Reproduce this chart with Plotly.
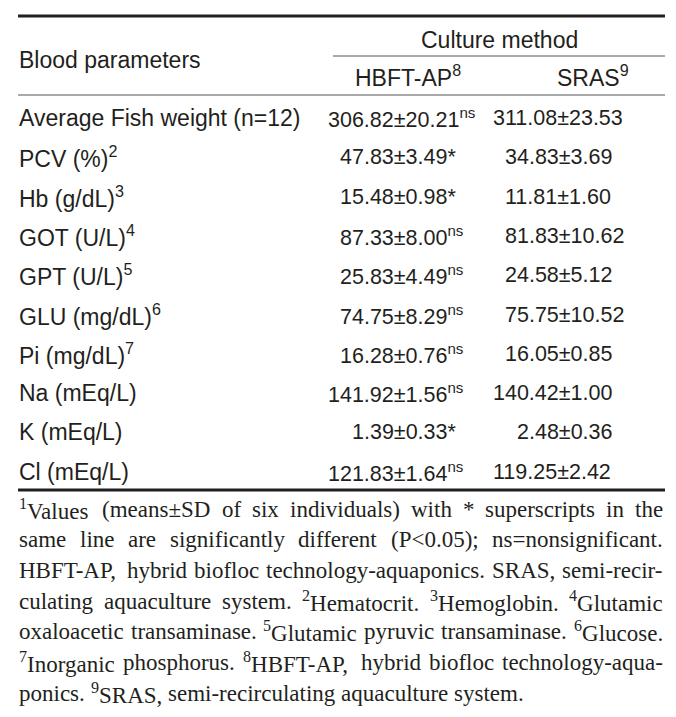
import re
import plotly.graph_objects as go

# ---------------- data ----------------
parameters = ["Average Fish weight (n=12)", "PCV (%)", "Hb (g/dL)", "GOT (U/L)", "GPT (U/L)",
              "GLU (mg/dL)", "Pi (mg/dL)", "Na (mEq/L)", "K (mEq/L)", "Cl (mEq/L)"]
param_notes = ["", "2", "3", "4", "5", "6", "7", "", "", ""]
hbft_mean = [306.82, 47.83, 15.48, 87.33, 25.83, 74.75, 16.28, 141.92, 1.39, 121.83]
hbft_sd = [20.21, 3.49, 0.98, 8.00, 4.49, 8.29, 0.76, 1.56, 0.33, 1.64]
hbft_sig = ["ns", "*", "*", "ns", "ns", "ns", "ns", "ns", "*", "ns"]
sras_mean = [311.08, 34.83, 11.81, 81.83, 24.58, 75.75, 16.05, 140.42, 2.48, 119.25]
sras_sd = [23.53, 3.69, 1.60, 10.62, 5.12, 10.52, 0.85, 1.00, 0.36, 2.42]

row_header = "Blood parameters"
group_header = "Culture method"
col_headers = ["HBFT-AP<sup>8</sup>", "SRAS<sup>9</sup>"]

footnote_lines = [
    "<sup>1</sup>Values (means±SD of six individuals) with * superscripts in the",
    "same line are significantly different (P&lt;0.05); ns=nonsignificant.",
    "HBFT-AP, hybrid biofloc technology-aquaponics. SRAS, semi-recir-",
    "culating aquaculture system. <sup>2</sup>Hematocrit. <sup>3</sup>Hemoglobin. <sup>4</sup>Glutamic",
    "oxaloacetic transaminase. <sup>5</sup>Glutamic pyruvic transaminase. <sup>6</sup>Glucose.",
    "<sup>7</sup>Inorganic phosphorus. <sup>8</sup>HBFT-AP, hybrid biofloc technology-aqua-",
    "ponics. <sup>9</sup>SRAS, semi-recirculating aquaculture system.",
]

# ---------------- layout constants ----------------
W, H = 676, 717
ROW0_PX, ROW_STEP = 110, 39.3
LEFT, RIGHT = 10, 657
TEXT_L, TEXT_R = 11, 655
COL1_DEC, COL2_DEC = 356, 521      # x of the decimal point of the means
COL1_HEAD, COL2_HEAD = 400, 585
INK = "#231f20"
SANS = "Liberation Sans, Arial, sans-serif"
SERIF = "Liberation Serif, Times New Roman, serif"
BODY_SIZE = 23
VALUE_SIZE = 21.5
FOOT_SIZE = 23
FOOT_Y0, FOOT_STEP = 501, 30.7
DIGIT_W = 0.556 * VALUE_SIZE


def px_to_row(p):
    return (p - ROW0_PX) / ROW_STEP


# Times-Roman advance widths (1/1000 em)
TW = {}
TW.update(dict(zip("abcdefghijklmnopqrstuvwxyz",
                   [444, 500, 444, 500, 444, 333, 500, 500, 278, 278, 500, 278, 778,
                    500, 500, 500, 500, 333, 389, 278, 500, 500, 722, 500, 500, 444])))
TW.update(dict(zip("ABCDEFGHIJKLMNOPQRSTUVWXYZ",
                   [722, 667, 667, 722, 611, 556, 722, 722, 333, 389, 722, 611, 889,
                    722, 722, 556, 722, 667, 556, 611, 722, 722, 944, 722, 722, 611])))
TW.update({d: 500 for d in "0123456789"})
TW.update({" ": 250, ".": 250, ",": 250, "-": 333, "(": 333, ")": 333, ";": 278,
           ":": 278, "=": 564, "<": 564, "±": 564, "*": 500})


def text_width(s, size):
    s = s.replace("&lt;", "<")
    total = 0.0
    for part in re.split(r"(<sup>.*?</sup>)", s):
        if not part:
            continue
        scale = 1.0
        if part.startswith("<sup>"):
            part = part[5:-6]
            scale = 0.7
        total += sum(TW.get(c, 500) for c in part) * scale
    return total * size / 1000.0


fig = go.Figure()
n = len(parameters)
rows = list(range(n))

labels = [p + (f"<sup>{s}</sup>" if s else "") for p, s in zip(parameters, param_notes)]


def fmt(m, s, sig=""):
    base = f"{m:.2f}±{s:.2f}"
    if sig == "ns":
        return base + "<sup>ns</sup>"
    return base + sig


def int_digits(m):
    return len(str(int(m)))


body_font = dict(family=SANS, size=BODY_SIZE, color=INK)
value_font = dict(family=SANS, size=VALUE_SIZE, color=INK)

# invisible anchor trace so the axes are driven by data
fig.add_trace(go.Scatter(x=[COL1_DEC] * n, y=rows, mode="markers",
                         marker=dict(size=1, opacity=0), hoverinfo="skip", showlegend=False))

annotations = []


def cell(x, y, text, anchor="left", font=body_font):
    annotations.append(dict(x=x, y=y, xref="x", yref="y", text=text, xanchor=anchor,
                            yanchor="middle", showarrow=False, borderpad=0,
                            borderwidth=0, font=font))


for i in rows:
    cell(TEXT_L, i, labels[i])
    cell(COL1_DEC - int_digits(hbft_mean[i]) * DIGIT_W, i,
         fmt(hbft_mean[i], hbft_sd[i], hbft_sig[i]), font=value_font)
    cell(COL2_DEC - int_digits(sras_mean[i]) * DIGIT_W, i,
         fmt(sras_mean[i], sras_sd[i]), font=value_font)

cell(TEXT_L, px_to_row(52), row_header)
cell((COL1_HEAD + COL2_HEAD) / 2 - 1, px_to_row(32), group_header, "center")
cell(COL1_HEAD, px_to_row(68), col_headers[0], "center")
cell(COL2_HEAD, px_to_row(68), col_headers[1], "center")

# justified footnote
foot_font = dict(family=SERIF, size=FOOT_SIZE, color=INK)
for li, line in enumerate(footnote_lines):
    words = line.split(" ")
    widths = [text_width(w, FOOT_SIZE) for w in words]
    if li < len(footnote_lines) - 1 and len(words) > 1:
        gap = ((TEXT_R - TEXT_L) - sum(widths)) / (len(words) - 1)
    else:
        gap = 0.25 * FOOT_SIZE
    xpos = TEXT_L
    ypos = px_to_row(FOOT_Y0 + li * FOOT_STEP)
    for w, wd in zip(words, widths):
        annotations.append(dict(x=xpos, y=ypos, xref="x", yref="y", text=w,
                                xanchor="left", yanchor="middle", showarrow=False,
                                borderpad=0, borderwidth=0, font=foot_font))
        xpos += wd + gap

shapes = [
    dict(type="line", xref="x", yref="y", x0=LEFT, x1=RIGHT, y0=px_to_row(8), y1=px_to_row(8),
         line=dict(color=INK, width=3)),
    dict(type="line", xref="x", yref="y", x0=325, x1=RIGHT, y0=px_to_row(48), y1=px_to_row(48),
         line=dict(color="#555555", width=1)),
    dict(type="line", xref="x", yref="y", x0=LEFT, x1=RIGHT, y0=px_to_row(87), y1=px_to_row(87),
         line=dict(color="#555555", width=1)),
    dict(type="line", xref="x", yref="y", x0=LEFT, x1=RIGHT, y0=px_to_row(482), y1=px_to_row(482),
         line=dict(color=INK, width=3)),
]

fig.update_layout(
    width=W, height=H,
    margin=dict(l=0, r=0, t=0, b=0),
    paper_bgcolor="white", plot_bgcolor="white",
    xaxis=dict(range=[0, W], visible=False, fixedrange=True),
    yaxis=dict(range=[px_to_row(H), px_to_row(0)], visible=False, fixedrange=True),
    annotations=annotations, shapes=shapes,
)

fig.write_html("out.html")
